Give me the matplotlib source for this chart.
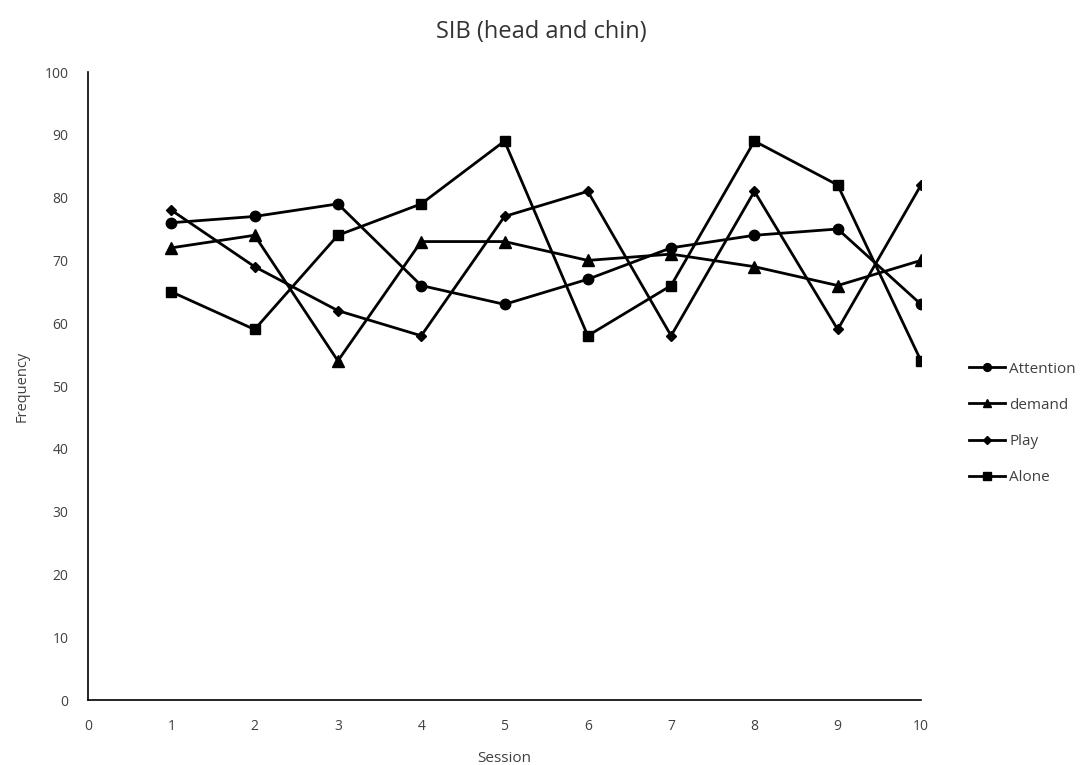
import matplotlib
matplotlib.use("Agg")
import matplotlib.pyplot as plt

sessions = [1, 2, 3, 4, 5, 6, 7, 8, 9, 10]
attention = [76, 77, 79, 66, 63, 67, 72, 74, 75, 63]
demand = [72, 74, 54, 73, 73, 70, 71, 69, 66, 70]
play = [78, 69, 62, 58, 77, 81, 58, 81, 59, 82]
alone = [65, 59, 74, 79, 89, 58, 66, 89, 82, 54]

series = [
    ("Attention", attention, "o", 7.5),
    ("demand", demand, "^", 8),
    ("Play", play, "D", 5.5),
    ("Alone", alone, "s", 7.5),
]

plt.rcParams['font.family'] = ['Open Sans', 'DejaVu Sans']
grey = "#404040"

fig = plt.figure(figsize=(10.85, 7.65), dpi=100)
ax = fig.add_axes([88/1085, 1 - 700/765, (921-88)/1085, (700-72)/765])

for name, vals, mk, ms in series:
    ax.plot(sessions, vals, color="black", lw=2.0, marker=mk, markersize=ms, label=name)

ax.set_xlim(0, 10)
ax.set_ylim(0, 100)
ax.set_xticks(range(0, 11))
ax.set_yticks(range(0, 101, 10))
ax.tick_params(axis='y', length=0, labelsize=10, labelcolor=grey, pad=14)
ax.tick_params(axis='x', length=0, labelsize=10, labelcolor=grey, pad=14)
for s in ["top", "right"]:
    ax.spines[s].set_visible(False)
for s in ["left", "bottom"]:
    ax.spines[s].set_color("black")
    ax.spines[s].set_linewidth(1.2)
ax.set_xlabel("Session", fontsize=11, color=grey, labelpad=12)
ax.set_ylabel("Frequency", fontsize=10.5, color=grey, labelpad=11)
fig.text(541/1085, 1 - 32/765, "SIB (head and chin)", ha="center", va="center",
         fontsize=17, color="#333333")

leg = ax.legend(loc="upper left", bbox_to_anchor=(958/1085, 1 - 351/765),
                bbox_transform=fig.transFigure, frameon=False, fontsize=11,
                handlelength=2.4, handletextpad=0.25, labelspacing=1.38,
                markerscale=0.75, borderpad=0.2)
for t in leg.get_texts():
    t.set_color(grey)

fig.savefig("out.png", dpi=100)
